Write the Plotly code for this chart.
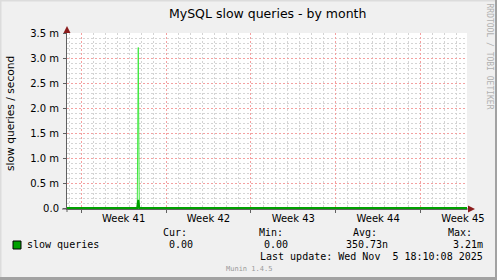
import plotly.graph_objects as go

# ---------------- data ----------------
series_time = ['2025-10-03 19:53', '2025-10-09 15:00', '2025-10-09 17:00',
               '2025-10-09 19:00', '2025-11-05 19:53']
avg_values = [0.0, 0.0, 0.00016, 0.0, 0.0]
max_values = [0.0, 0.0, 0.00321, 0.0, 0.0]

x_range = ['2025-10-03 19:53', '2025-11-05 19:53']
week_start_first = '2025-10-05'
week_label_times = ['2025-10-08 12:00', '2025-10-15 12:00', '2025-10-22 12:00',
                    '2025-10-29 12:00', '2025-11-05 12:00']
week_labels = ['Week 41', 'Week 42', 'Week 43', 'Week 44', 'Week 45']

y_tick_vals = [0, 0.0005, 0.0010, 0.0015, 0.0020, 0.0025, 0.0030, 0.0035]
y_tick_text = ['0.0', '0.5 m', '1.0 m', '1.5 m', '2.0 m', '2.5 m', '3.0 m', '3.5 m']

title_text = 'MySQL slow queries - by month'
y_title = 'slow queries / second'
legend_name = 'slow queries'
stat_headers = ['Cur:', 'Min:', 'Avg:', 'Max:']
stat_values = ['0.00', '0.00', '350.73n', '3.21m']
last_update = 'Last update: Wed Nov\u00a0\u00a05 18:10:08 2025'
footer = 'Munin 1.4.5'
side_text = 'RRDTOOL / TOBI OETIKER'

# ---------------- geometry helpers ----------------
W, H = 497, 280
L, R, T, B = 67, 467, 33, 209


def px(X):
    return (X - L) / (R - L)


def py(Y):
    return (B - Y) / (B - T)


DAY_MS = 86400000
RED = '#f4a0a0'
GRAY = '#d4d4d4'
AXC = '#606060'
DOT = '2px,2px'

fig = go.Figure()
fig.add_trace(go.Scatter(x=series_time, y=max_values, mode='lines',
                         line=dict(color='#3ee83e', width=1),
                         hoverinfo='skip', showlegend=False, cliponaxis=False))
fig.add_trace(go.Scatter(x=series_time, y=avg_values, mode='lines',
                         line=dict(color='#00a000', width=2),
                         hoverinfo='skip', showlegend=False, cliponaxis=False))
# carrier for the label axis
fig.add_trace(go.Scatter(x=[week_label_times[0]], y=[0], xaxis='x2', mode='markers',
                         marker=dict(opacity=0), hoverinfo='skip', showlegend=False))

fig.update_layout(
    width=W, height=H, autosize=False,
    margin=dict(l=L, r=W - R, t=T, b=H - B, pad=0),
    paper_bgcolor='#f0f0f0', plot_bgcolor='#ffffff',
    font=dict(family='DejaVu Sans', size=10, color='#000'),
    xaxis=dict(type='date', range=x_range, tickmode='linear', tick0=week_start_first,
               dtick=7 * DAY_MS, showticklabels=False, showgrid=True, gridcolor=RED,
               griddash=DOT, gridwidth=1, ticks='outside', ticklen=3, tickcolor=AXC,
               showline=True, linecolor=AXC, linewidth=1, zeroline=False,
               minor=dict(dtick=DAY_MS, tick0=week_start_first, showgrid=True,
                          gridcolor=GRAY, griddash=DOT, gridwidth=1),
               fixedrange=True),
    xaxis2=dict(type='date', range=x_range, overlaying='x', anchor='y', side='bottom',
                tickmode='array', tickvals=week_label_times, ticktext=week_labels,
                showgrid=False, showline=False, ticks='', zeroline=False,
                ticklabelstandoff=2,
                tickfont=dict(family='DejaVu Sans', size=10, color='#000')),
    yaxis=dict(range=[-0.00002, 0.0035], tickmode='array', tickvals=y_tick_vals,
               ticktext=y_tick_text, showgrid=True, gridcolor=RED, griddash=DOT,
               gridwidth=1, ticks='outside', ticklen=3, tickcolor=AXC,
               showline=True, linecolor=AXC, linewidth=1, zeroline=False,
               ticklabelstandoff=2,
               tickfont=dict(family='DejaVu Sans', size=10, color='#000'),
               minor=dict(dtick=0.0001, tick0=0, showgrid=True, gridcolor=GRAY,
                          griddash=DOT, gridwidth=1),
               fixedrange=True),
)

shapes = []
# frame
shapes.append(dict(type='rect', xref='paper', yref='paper', x0=px(0), x1=px(W), y0=py(0), y1=py(1.5),
                   fillcolor='#dcdcdc', line=dict(width=0), layer='above'))
shapes.append(dict(type='rect', xref='paper', yref='paper', x0=px(0), x1=px(1.5), y0=py(0), y1=py(H),
                   fillcolor='#dcdcdc', line=dict(width=0), layer='above'))
shapes.append(dict(type='rect', xref='paper', yref='paper', x0=px(W - 2), x1=px(W), y0=py(0), y1=py(H),
                   fillcolor='#a2a2a2', line=dict(width=0), layer='above'))
shapes.append(dict(type='rect', xref='paper', yref='paper', x0=px(0), x1=px(W), y0=py(H - 3), y1=py(H),
                   fillcolor='#a2a2a2', line=dict(width=0), layer='above'))
# axis extensions
shapes.append(dict(type='line', xref='paper', yref='paper', x0=px(62), x1=px(L), y0=py(B), y1=py(B),
                   line=dict(color=AXC, width=1)))
shapes.append(dict(type='line', xref='paper', yref='paper', x0=px(L), x1=px(L), y0=py(B), y1=py(212),
                   line=dict(color=AXC, width=1)))
shapes.append(dict(type='line', xref='paper', yref='paper', x0=px(L), x1=px(L), y0=py(T), y1=py(28),
                   line=dict(color=AXC, width=1)))
shapes.append(dict(type='line', xref='paper', yref='paper', x0=px(R), x1=px(470), y0=py(B), y1=py(B),
                   line=dict(color=AXC, width=1)))
# arrows
ARW = '#8b1c1c'
shapes.append(dict(type='path', xref='paper', yref='paper',
                   path=f'M {px(L - 3.5)},{py(T)} L {px(L + 3.5)},{py(T)} L {px(L)},{py(T - 7)} Z',
                   fillcolor=ARW, line=dict(width=0)))
shapes.append(dict(type='path', xref='paper', yref='paper',
                   path=f'M {px(R + 1)},{py(B - 3.5)} L {px(R + 1)},{py(B + 3.5)} L {px(R + 8)},{py(B)} Z',
                   fillcolor=ARW, line=dict(width=0)))
# legend swatch
shapes.append(dict(type='rect', xref='paper', yref='paper', x0=px(13), x1=px(21), y0=py(241), y1=py(249),
                   fillcolor='#00a000', line=dict(color='#000', width=1)))
fig.update_layout(shapes=shapes)

MONO = 'DejaVu Sans Mono'


def ann(text, X, Y, xa='left', size=10, family=MONO, color='#000', angle=0):
    return dict(text=text, x=px(X), y=py(Y), xref='paper', yref='paper', xanchor=xa,
                yanchor='middle', showarrow=False, borderpad=0, borderwidth=0,
                font=dict(family=family, size=size, color=color), textangle=angle)


anns = [
    ann(title_text, 267, 13.5, xa='center', size=12.5, family='DejaVu Sans'),
    ann(y_title, 10, 114, xa='center', size=10.7, family='DejaVu Sans', angle=-90),
    ann(side_text, 489, 56.5, xa='center', size=8, color='#b0b0b0', angle=90),
    ann(legend_name, 27, 244.5),
    ann(stat_headers[0], 163, 233), ann(stat_values[0], 169, 244.5),
    ann(stat_headers[1], 258.5, 233), ann(stat_values[1], 264, 244.5),
    ann(stat_headers[2], 353, 233), ann(stat_values[2], 346.3, 244.5),
    ann(stat_headers[3], 447.7, 233), ann(stat_values[3], 483, 244.5, xa='right'),
    ann(last_update, 483, 256.5, xa='right'),
    ann(footer, 248.5, 268.5, xa='center', size=7, color='#9a9a9a'),
]
fig.update_layout(annotations=anns)

fig.write_html('out.html', config={'displayModeBar': False})
